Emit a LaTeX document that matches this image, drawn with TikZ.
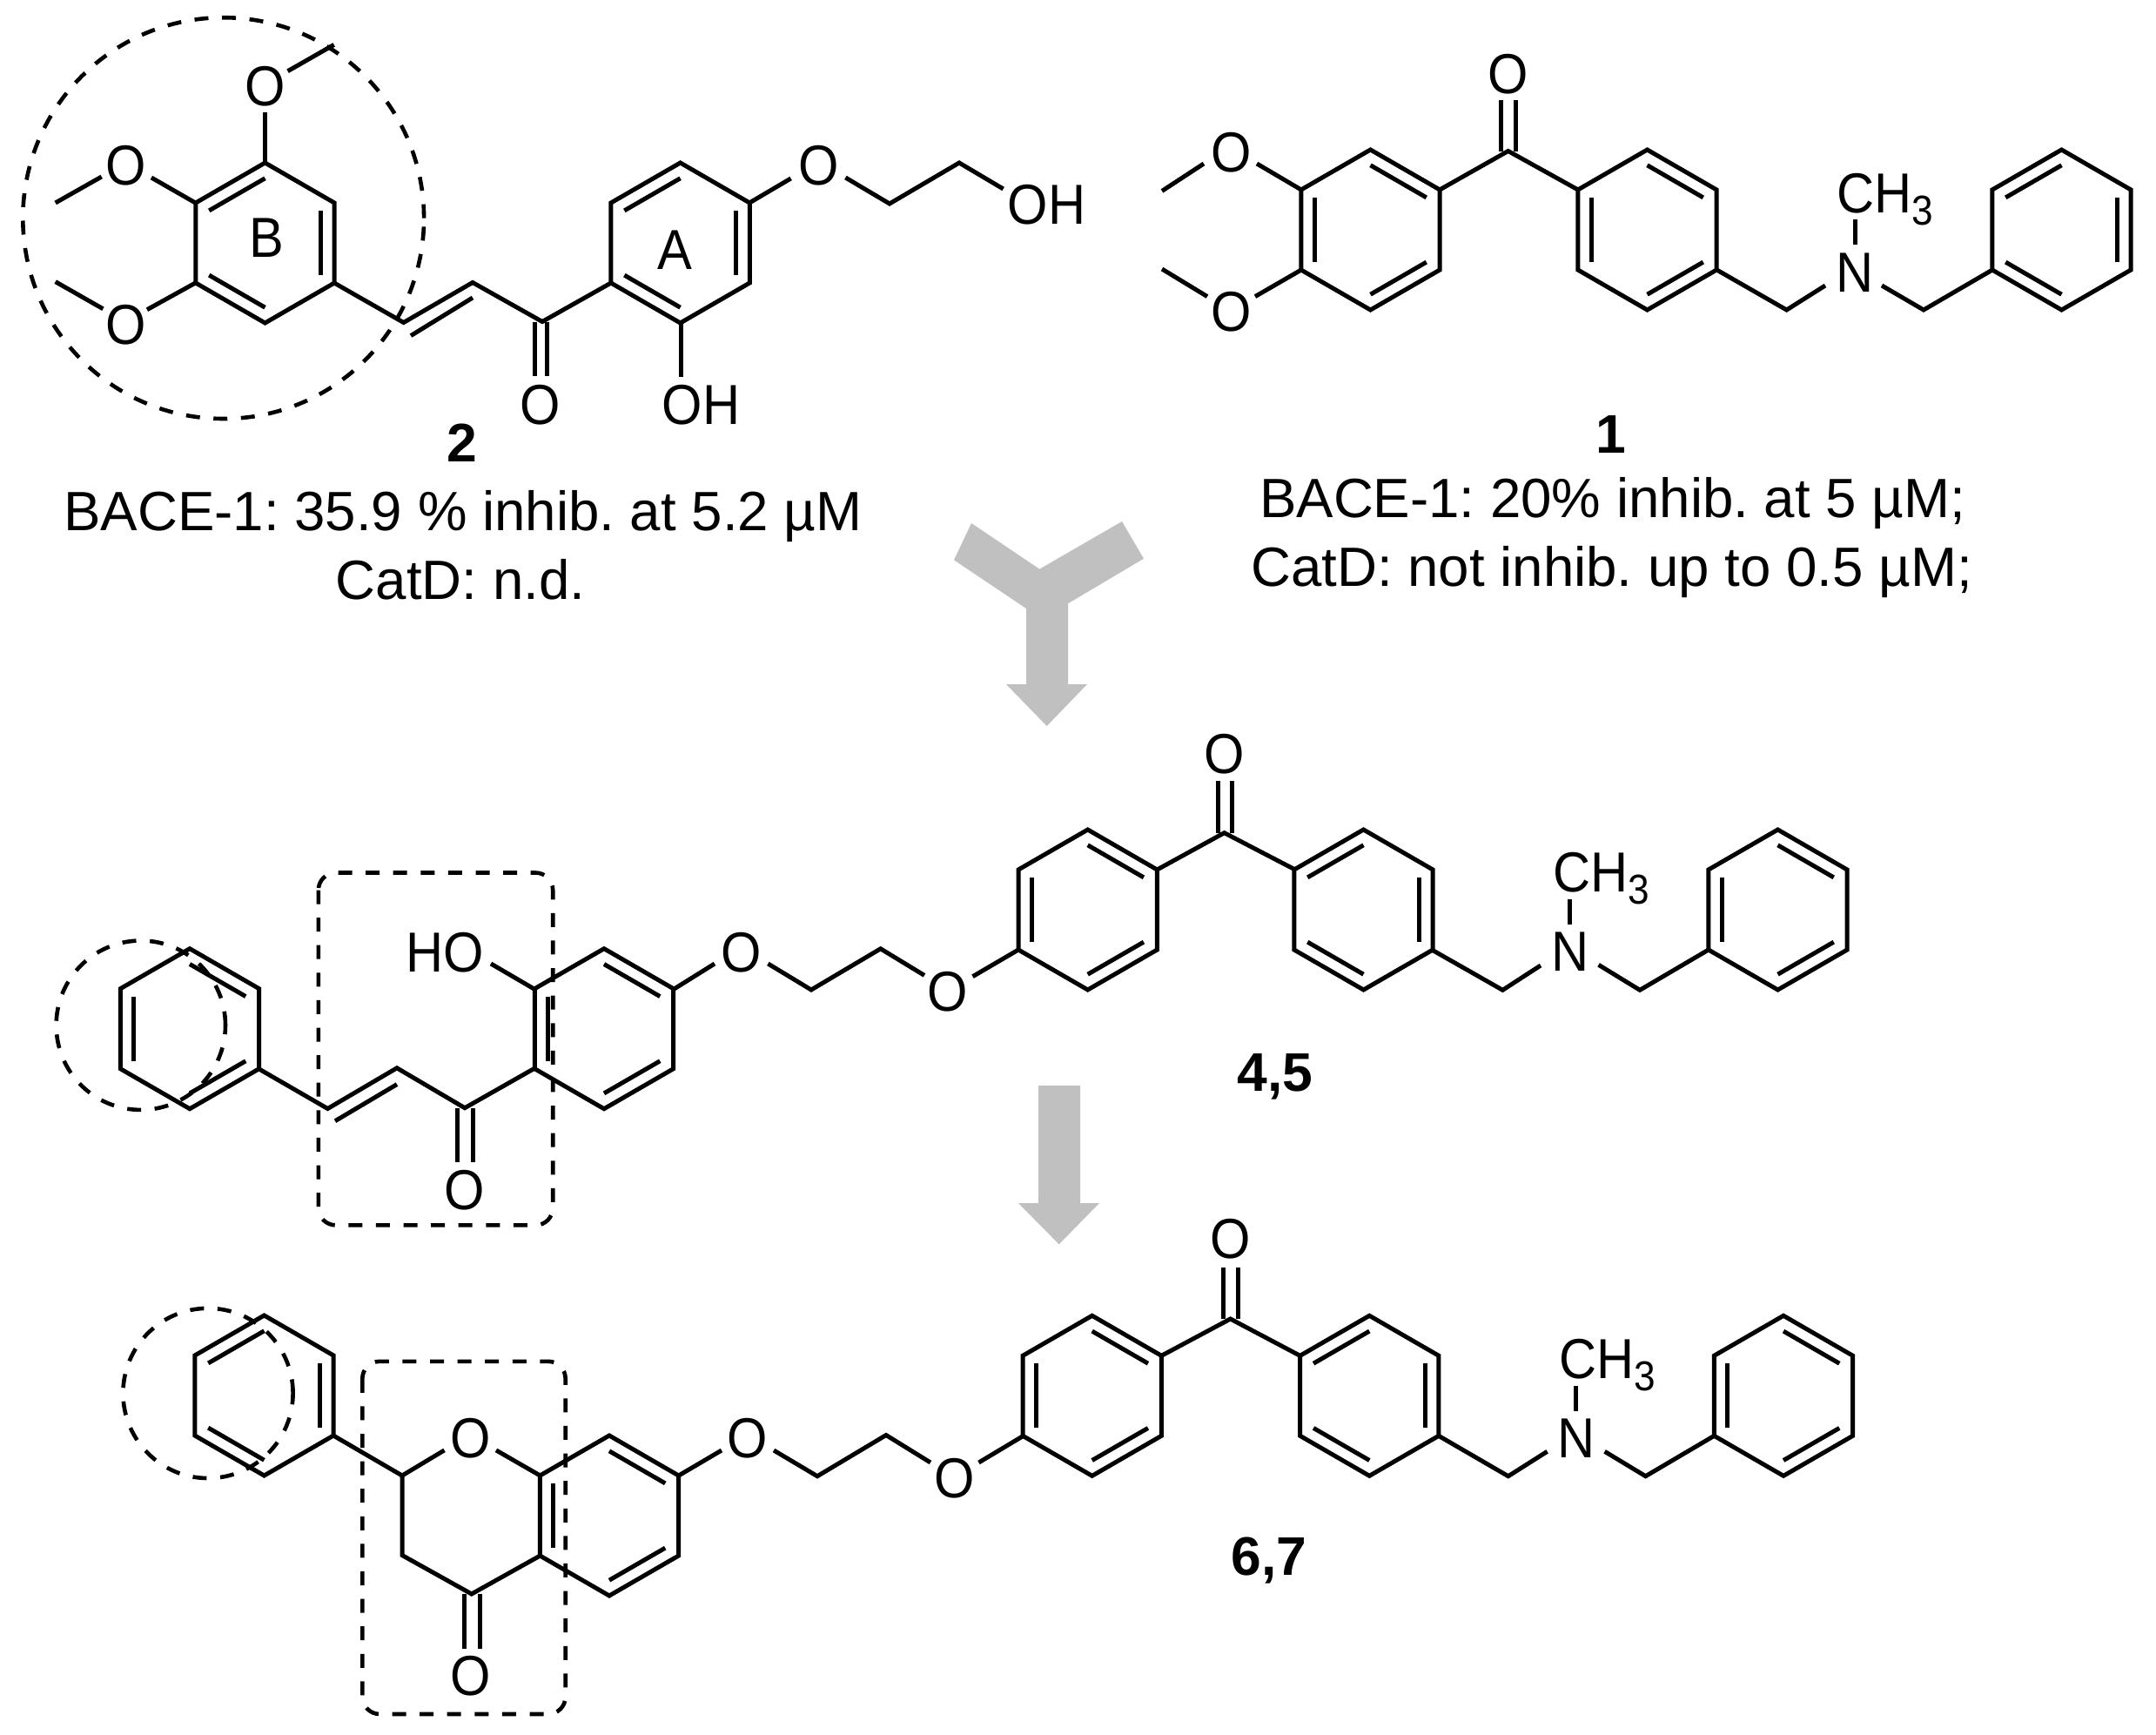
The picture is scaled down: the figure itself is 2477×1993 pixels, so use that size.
\documentclass[tikz,border=0pt]{standalone}
\usepackage{fontspec}
\setmainfont{Liberation Sans}
\newfontfamily\atomfont[FakeStretch=0.92]{Liberation Sans}
\newcommand\hexring[3]{%
  \draw[bond] ([shift={(90:23pt)}]#1,#2) -- ([shift={(150:23pt)}]#1,#2) -- ([shift={(210:23pt)}]#1,#2)
    -- ([shift={(270:23pt)}]#1,#2) -- ([shift={(330:23pt)}]#1,#2) -- ([shift={(30:23pt)}]#1,#2) -- cycle;
  \foreach \a in {#3}{\draw[bond] ([shift={(\a:18.55pt)}]#1,#2) -- ([shift={(\a+60:18.55pt)}]#1,#2);}%
}
\newcommand\methyl{CH\raisebox{-3.5pt}{\fontsize{12pt}{12pt}\selectfont 3}}
\begin{document}
\frenchspacing
\begin{tikzpicture}[x=0.25pt,y=-0.25pt,
  bond/.style={draw=black,line width=1.25pt},
  dash box/.style={draw=black,line width=1.15pt,dash pattern=on 4pt off 3.9pt},
  atom/.style={inner sep=0pt,text depth=0pt,font=\atomfont\fontsize{16.2pt}{18pt}\selectfont},
  captext/.style={inner sep=0pt,text depth=0pt,font=\fontsize{15.9pt}{18pt}\selectfont},
  num/.style={inner sep=0pt,text depth=0pt,font=\fontsize{15.6pt}{18pt}\selectfont\bfseries},
  grayarrow/.style={fill=arrowgray,draw=none}]
\definecolor{arrowgray}{HTML}{C0C0C0}
\useasboundingbox (0,0) rectangle (2477,1993);
% ---------- compound 2
\draw[dash box] (256.7,250.6) circle[radius=57.6pt];
\hexring{304.5}{279}{90,330,210}
\hexring{781.6}{279}{90,330,210}
\node[atom] (o2top) at (304.5,98.7) {O};
\node[atom] (o2ul) at (144.5,189.6) {O};
\node[atom] (o2ll) at (144.5,372.7) {O};
\draw[bond] (304.5,187) -- (304.5,129);
\draw[bond] (330.6,81.7) -- (383.7,51.4);
\draw[bond] (173.9,204) -- (224.5,233);
\draw[bond] (116.7,203) -- (63.7,233);
\draw[bond] (169,355.7) -- (224.5,325);
\draw[bond] (118.4,354.8) -- (63.7,323.6);
\draw[bond] (384,325) -- (463.7,370.5) -- (543,324.5) -- (623,369.5) -- (702,325);
\draw[bond] (472,385.6) -- (543,342);
\draw[bond] (614,369.5) -- (614,431.5);
\draw[bond] (628.6,369.5) -- (628.6,431.5);
\node[atom] (o2c) at (620.5,464.5) {O};
\draw[bond] (782,370) -- (782,433);
\node[atom] (oh2a) at (805.7,464.5) {OH};
\node[atom] (o2e) at (940.4,189.6) {O};
\draw[bond] (861,233) -- (908.6,205);
\draw[bond] (971.4,204) -- (1022,234) -- (1102,187) -- (1152.6,217);
\node[atom] (oh2b) at (1202.5,235) {OH};
\node[atom] (ringA) at (775.5,287) {A};
\node[atom] (ringB) at (306,273) {B};
\node[num] (lab2) at (530.6,508.6) {2};
\node[captext] (t2a) at (532,586) {BACE-1: 35.9 \% inhib. at 5.2 µM};
\node[captext] (t2b) at (529,665) {CatD: n.d.};
% ---------- compound 1
\hexring{1574.5}{264}{30,150,270}
\hexring{1892.5}{264}{30,150,270}
\hexring{2368.5}{264}{90,330,210}
\draw[bond] (1654,218) -- (1732.7,173.5) -- (1813,218);
\draw[bond] (1724.3,173.5) -- (1724.3,114.8);
\draw[bond] (1741.9,173.5) -- (1741.9,114.8);
\node[atom] (o1c) at (1732.7,85) {O};
\node[atom] (o1u) at (1415,175) {O};
\node[atom] (o1l) at (1415,358) {O};
\draw[bond] (1444,188) -- (1495,218);
\draw[bond] (1383,188) -- (1335,219.4);
\draw[bond] (1442,340.6) -- (1495,310);
\draw[bond] (1387,340.6) -- (1335,309);
\draw[bond] (1972.4,310) -- (2052.6,356) -- (2097,328);
\node[atom] (n1) at (2131,313.5) {N};
\draw[bond] (2131,252) -- (2131,281);
\node[atom,anchor=west] (me1) at (2110,221.7) {\methyl};
\draw[bond] (2162,328) -- (2210,356) -- (2289,310);
\node[num] (lab1) at (1851,499.4) {1};
\node[captext] (t1a) at (1852.6,571.5) {BACE-1: 20\% inhib. at 5 µM;};
\node[captext] (t1b) at (1851.6,650.5) {CatD: not inhib. up to 0.5 µM;};
% ---------- merging arrow
\fill[grayarrow] (1116,601) -- (1096,643.3) -- (1179,699) -- (1179,786) -- (1156,786) -- (1202.7,834)
  -- (1249,786) -- (1227,786) -- (1227,693.3) -- (1314,641.7) -- (1289,599) -- (1194.3,653.7) -- cycle;
% ---------- compound 4,5
\draw[dash box] (161.8,1177.7) circle[radius=24.3pt];
\draw[dash box,rounded corners=5pt] (365.8,1002.5) rectangle (635.2,1407.4);
\hexring{218}{1181.7}{30,150,270}
\hexring{694}{1181.7}{30,150,270}
\hexring{1249.7}{1045}{30,150,270}
\hexring{1566.5}{1045}{90,330,210}
\hexring{2042.5}{1045}{30,150,270}
\draw[bond] (297,1227.6) -- (376.5,1273.5) -- (456,1226.8) -- (534,1272.7) -- (614.5,1227);
\draw[bond] (385,1287.7) -- (456,1245.6);
\draw[bond] (525.8,1272.7) -- (525.8,1334.7);
\draw[bond] (543.4,1272.7) -- (543.4,1334.7);
\node[atom] (o4c) at (534,1366.5) {O};
\node[atom] (ho4) at (511,1093.6) {HO};
\draw[bond] (564,1107) -- (614.5,1136.5);
\node[atom] (o4a) at (851.8,1093.6) {O};
\draw[bond] (773.7,1136.5) -- (821,1107);
\draw[bond] (882.4,1107) -- (932,1137) -- (1011.7,1089.8) -- (1062,1120.4);
\node[atom] (o4b) at (1089,1138.8) {O};
\draw[bond] (1117.5,1121.7) -- (1170,1091);
\draw[bond] (1329.4,999) -- (1406.6,956.7) -- (1488,999);
\draw[bond] (1399.5,956.7) -- (1399.5,896.7);
\draw[bond] (1415.7,956.7) -- (1415.7,896.7);
\node[atom] (o4k) at (1406.6,865.7) {O};
\draw[bond] (1645,1091) -- (1726.4,1137.3) -- (1770,1109);
\node[atom] (n4) at (1803.6,1093.3) {N};
\draw[bond] (1803.6,1033.3) -- (1803.6,1061.7);
\node[atom,anchor=west] (me4) at (1784,1002) {\methyl};
\draw[bond] (1836.6,1108.3) -- (1884,1137.3) -- (1962.9,1091);
\node[num] (lab4) at (1464.8,1231.7) {4,5};
% ---------- second arrow
\fill[grayarrow] (1193,1247) -- (1241,1247) -- (1241,1382) -- (1263,1382) -- (1216.7,1429.3)
  -- (1170,1382) -- (1193,1382) -- cycle;
% ---------- compound 6,7
\draw[dash box] (239,1600.4) circle[radius=24.4pt];
\draw[dash box,rounded corners=5pt] (416.3,1563.8) rectangle (649.7,1969);
\hexring{303.5}{1603}{90,330,210}
\hexring{700}{1741}{30,150,270}
\hexring{1254.7}{1603.3}{30,150,270}
\hexring{1573.3}{1603.3}{90,330,210}
\hexring{2049}{1603.3}{30,150,270}
\draw[bond] (383,1649) -- (462,1695) -- (510.5,1665.9);
\node[atom] (o6r) at (541,1651.5) {O};
\draw[bond] (570,1665.9) -- (620.6,1695);
\draw[bond] (462,1695) -- (462,1786.5) -- (541.8,1831) -- (620.6,1787);
\draw[bond] (533.4,1831) -- (533.4,1893.5);
\draw[bond] (551,1831) -- (551,1893.5);
\node[atom] (o6c) at (541,1925) {O};
\node[atom] (o6a) at (858.7,1651.5) {O};
\draw[bond] (779.7,1695) -- (829,1666);
\draw[bond] (889,1666) -- (939,1695.7) -- (1018,1648.5) -- (1069,1680);
\node[atom] (o6b) at (1096.7,1697.6) {O};
\draw[bond] (1124.5,1680) -- (1175.8,1649.3);
\draw[bond] (1334.4,1557.3) -- (1413.6,1515) -- (1493.6,1557.3);
\draw[bond] (1405.9,1515) -- (1405.9,1455.7);
\draw[bond] (1422.7,1515) -- (1422.7,1455.7);
\node[atom] (o6k) at (1413.6,1423.3) {O};
\draw[bond] (1652.8,1649.3) -- (1732.8,1695.7) -- (1777.6,1667.3);
\node[atom] (n6) at (1810.6,1652.3) {N};
\draw[bond] (1810.6,1592.3) -- (1810.6,1620.7);
\node[atom,anchor=west] (me6) at (1791,1561) {\methyl};
\draw[bond] (1843.6,1667.3) -- (1890.6,1695.7) -- (1969.4,1649.3);
\node[num] (lab6) at (1457.8,1788) {6,7};
\end{tikzpicture}
\end{document}
